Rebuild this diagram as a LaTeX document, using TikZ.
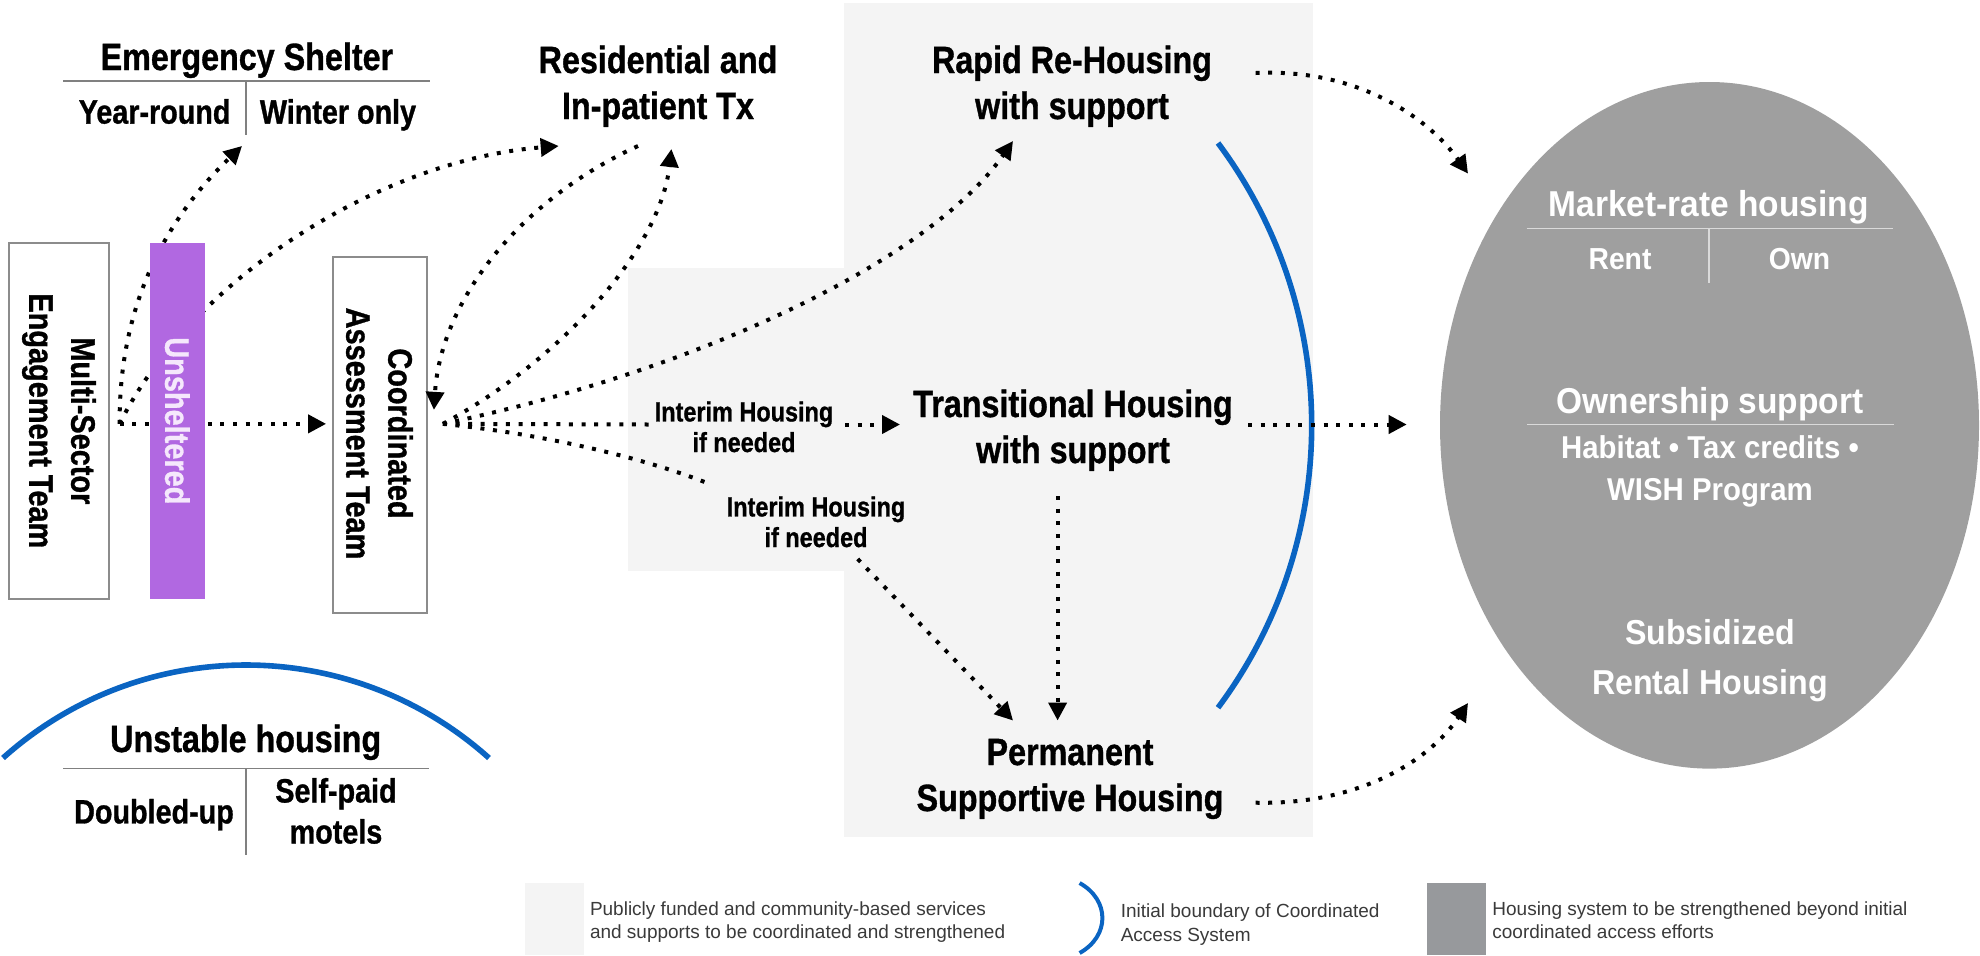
\documentclass[tikz,border=0pt]{standalone}
\usepackage{fontspec}
\setmainfont{Liberation Sans}
\newfontfamily\cnd[FakeStretch=0.85, FakeBold=0.9]{Liberation Sans}
\newfontfamily\wde[FakeStretch=0.93]{Liberation Sans}
\usetikzlibrary{arrows.meta,calc,shapes.geometric}
\definecolor{bgg}{HTML}{F4F4F4}
\definecolor{ellg}{HTML}{9F9F9F}
\definecolor{darksq}{HTML}{97999C}
\definecolor{purp}{HTML}{B168E1}
\definecolor{lav}{HTML}{F5E8FC}
\definecolor{bluec}{HTML}{0A64C2}
\definecolor{boxc}{HTML}{8C8C8C}
\definecolor{sepc}{HTML}{808080}
\definecolor{elline}{HTML}{DADADA}
\definecolor{legtext}{HTML}{3A3A3A}
\begin{document}
\begin{tikzpicture}[x=0.5pt,y=-0.5pt,
  flowline/.style={line width=2pt, dash pattern=on 2pt off 4.3pt},
  flow/.style={flowline, -{Triangle[length=9pt,width=9pt]}},
  bluearc/.style={draw=bluec, line width=2.8pt},
  sepline/.style={draw=sepc, line width=0.8pt},
  ellline/.style={draw=elline, line width=0.8pt},
  boxst/.style={draw=boxc, line width=0.9pt, fill=white, inner sep=0pt},
  ttl/.style={font=\cnd\bfseries\fontsize{19pt}{23pt}\selectfont, align=center, anchor=base, inner sep=0pt},
  sub/.style={font=\cnd\bfseries\fontsize{16.9pt}{20.5pt}\selectfont, align=center, anchor=base, inner sep=0pt},
  itm/.style={font=\cnd\bfseries\fontsize{13.8pt}{15.3pt}\selectfont, align=center, anchor=base, inner sep=0pt},
  rot/.style={font=\cnd\bfseries\fontsize{17pt}{21pt}\selectfont, align=center, rotate=-90, inner sep=0pt},
  elt/.style={font=\wde\bfseries\fontsize{18pt}{22pt}\selectfont, text=white, align=center, anchor=base, inner sep=0pt},
  elt2/.style={font=\wde\bfseries\fontsize{17.3pt}{25pt}\selectfont, text=white, align=center, anchor=base, inner sep=0pt},
  els/.style={font=\wde\bfseries\fontsize{15.2pt}{18pt}\selectfont, text=white, align=center, anchor=base, inner sep=0pt},
  elm/.style={font=\wde\bfseries\fontsize{15.8pt}{21.3pt}\selectfont, text=white, align=center, anchor=base, inner sep=0pt},
  leg/.style={font=\fontsize{9.5pt}{11.75pt}\selectfont, text=legtext, align=left, anchor=base west, inner sep=0pt}
]
\useasboundingbox (0,0) rectangle (1980,955);
% backgrounds
\fill[bgg] (844,3) rectangle (1313,837);
\fill[bgg] (628,268) rectangle (844,571);
\node[ellipse, fill=ellg, minimum width=269.5pt, minimum height=343.3pt, inner sep=0pt] (ell) at (1709.5,425.3) {};
% boundary arcs
\draw[bluearc] (1218,143) .. controls (1342.9,310.4) and (1342.9,540.4) .. (1218,707.7);
\draw[bluearc] (3,758) .. controls (141.3,634) and (350.7,634) .. (489,758);
% boxes
\node[boxst, minimum width=49.75pt, minimum height=177.85pt] (ms) at (58.95,420.85) {};
\node[rot] (mstxt) at (ms.center) {Multi-Sector\\Engagement Team};
\node[boxst, minimum width=47pt, minimum height=177.85pt] (cat) at (380,434.85) {};
\node[rot] (cattxt) at (379.5,433.5) {Coordinated\\Assessment Team};
% titles
\node[ttl] (es) at (246.9,70) {Emergency Shelter};
\node[sub] (esyr) at (154.6,123.6) {Year-round};
\node[sub] (eswo) at (338,123.6) {Winter only};
\draw[sepline] (63,81) -- (430,81);
\draw[sepline] (246,81) -- (246,135);
\node[ttl] (res) at (658,119) {Residential and\\In-patient Tx};
\node[ttl] (rrh) at (1072,119) {Rapid Re-Housing\\with support};
\node[ttl] (th) at (1073,463) {Transitional Housing\\with support};
\node[ttl] (psh) at (1070,811) {Permanent\\Supportive Housing};
\node[itm] (ih1) at (744,452) {Interim Housing\\if needed};
\node[itm] (ih2) at (816,547) {Interim Housing\\if needed};
\node[ttl] (uh) at (245.7,752) {Unstable housing};
\draw[sepline] (63,768.6) -- (429,768.6);
\draw[sepline] (245.7,768.6) -- (245.7,854.5);
\node[sub] (dbl) at (154,823.4) {Doubled-up};
\node[sub] (spm) at (336,843.5) {Self-paid\\motels};
% ellipse texts
\node[elt] (mrh) at (1708.5,216) {Market-rate housing};
\draw[ellline] (1526.5,228.4) -- (1893,228.4);
\draw[ellline] (1709,228.4) -- (1709,283);
\node[els] (rent) at (1620,269) {Rent};
\node[els] (own) at (1799.5,269) {Own};
\node[elt] (os) at (1710,413) {Ownership support};
\draw[ellline] (1527,424.5) -- (1894,424.5);
\node[elm] (hab) at (1710,500.6) {Habitat • Tax credits •\\WISH Program};
\node[elt2] (srh) at (1710,694) {Subsidized\\Rental Housing};
% connectors
\coordinate (msout) at ($(ms.east)+(10,3)$);
\coordinate (catout) at ($(cat.east)+(15,-11)$);
\draw[flow] (msout) .. controls +(-0.7,-124) and +(-72,69) .. ($(es.base)+(-4.9,76)$);
\draw[flow] (msout) .. controls +(71.3,-144) and +(-178.7,14) .. ($(res.base)+(-99.3,27)$);
\draw[flow, shorten >=3pt] (msout) -- (msout -| cat.west);
\draw[flow] ($(res.base)+(-20,27)$) .. controls +(-118,54) and +(7,-109.85) .. ($(cat.east)+(6,-25)$);
\draw[flow] (catout) .. controls +(118,-64) and +(-11.4,101) .. ($(res.base)+(13.4,30)$);
\draw[flow] (catout) .. controls +(258,-54) and +(-83,119) .. ($(rrh.base)+(-59,22)$);
\draw[flowline] (catout) -- ($(ih1.base)+(-93,-27.5)$);
\draw[flow] ($(ih1.base)+(101,-27.5)$) -- ($(th.base)+(-173,-38.5)$);
\draw[flowline] (catout) .. controls +(108,11) and +(-59.7,-24) .. ($(ih2.base)+(-106.3,-63)$);
\draw[flow] ($(ih2.base)+(41.7,12)$) -- ($(psh.base)+(-57,-90.5)$);
\draw[flow] ($(th.base)+(-15.4,33)$) -- ($(psh.base)+(-12.4,-90.5)$);
\draw[flow] ($(rrh.base)+(183.6,-46)$) .. controls +(104.4,-5) and +(-38,-53.6) .. ($(ell.center)+(-241.5,-251.7)$);
\draw[flow] ($(th.base)+(175,-38.5)$) -- ($(ell.center)+(-302.8,-0.8)$);
\draw[flow] ($(psh.base)+(185.6,-8.3)$) .. controls +(104.4,2.3) and +(-38,57) .. ($(ell.center)+(-241.5,277.7)$);
% purple bar on top
\node[fill=purp, minimum width=27.35pt, minimum height=177.85pt, inner sep=0pt] (uns) at (177.35,420.85) {};
\node[rot, text=lav] (unstxt) at (uns.center) {Unsheltered};
% legend
\fill[bgg] (525,883) rectangle (583.6,955);
\node[leg] (l1) at (589.6,938.5) {Publicly funded and community-based services\\and supports to be coordinated and strengthened};
\draw[draw=bluec, line width=2pt] (1079.6,883) .. controls (1110,900) and (1110,936) .. (1079.6,953);
\node[leg] (l2) at (1120.4,941) {Initial boundary of Coordinated\\Access System};
\fill[darksq] (1427,883) rectangle (1486,955);
\node[leg] (l3) at (1492,938.5) {Housing system to be strengthened beyond initial\\coordinated access efforts};
\end{tikzpicture}
\end{document}
